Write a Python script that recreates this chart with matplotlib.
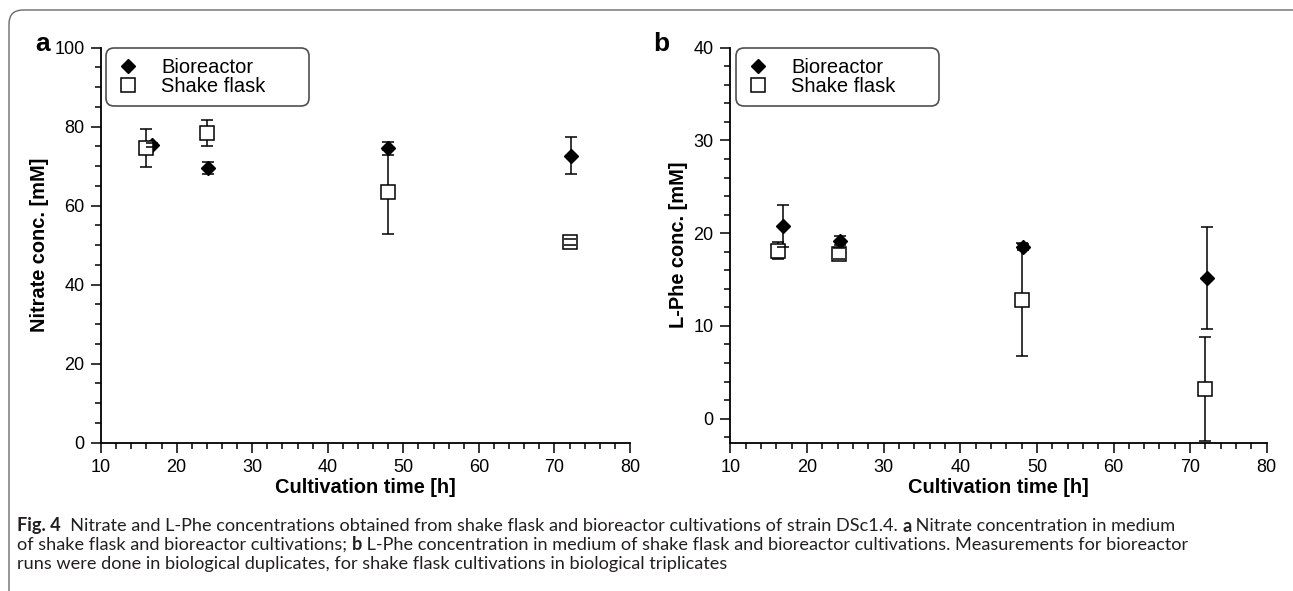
import matplotlib
matplotlib.use("Agg")
import matplotlib.pyplot as plt
from matplotlib.patches import FancyBboxPatch
from matplotlib.lines import Line2D
from matplotlib.ticker import MultipleLocator

# --- data ---
time_bio_a = [16.75, 24.2, 48.0, 72.2]
nitrate_bio = [75.4, 69.6, 74.5, 72.7]
nitrate_bio_err = [0.5, 1.5, 1.6, 4.8]
time_sf_a = [16.0, 24.0, 48.0, 72.0]
nitrate_sf = [74.6, 78.4, 63.5, 50.8]
nitrate_sf_err = [4.7, 3.2, 10.7, 0.8]

time_bio_b = [16.9, 24.35, 48.2, 72.2]
phe_bio = [20.8, 19.2, 18.5, 15.2]
phe_bio_err = [2.25, 0.5, 0.3, 5.5]
time_sf_b = [16.2, 24.2, 48.1, 72.0]
phe_sf = [18.1, 17.8, 12.8, 3.2]
phe_sf_err = [0.9, 0.6, 6.1, 5.6]

plt.rcParams['font.family'] = ['Liberation Sans', 'DejaVu Sans']

fig = plt.figure(figsize=(12.93, 5.91), dpi=100)

# rounded frame round the figure (display coords, origin bottom-left)
frame = FancyBboxPatch((9, -40), 1310, 621, boxstyle="round,pad=0,rounding_size=14",
                       transform=None, fc='none', ec='#6a6a6a', lw=1.0)
fig.patches.append(frame)


def draw_panel(ax, xb, yb, eb, xs, ys, es, ylim, ymajor, yminor, ylabel, leg_x0, leg_w):
    # bioreactor: filled diamonds
    l1 = ax.errorbar(xb, yb, yerr=eb, fmt='D', ms=7.5, color='black', mfc='black',
                     mec='black', ecolor='black', elinewidth=1.1, capsize=4, capthick=1.1)
    # shake flask: open squares
    l2 = ax.errorbar(xs, ys, yerr=es, fmt='s', ms=9.5, color='black', mfc='white',
                     mec='black', mew=1.1, ecolor='black', elinewidth=1.1, capsize=4,
                     capthick=1.1)
    for c in (l1, l2):
        c[0].set_zorder(3)
        for cl in c[1]:
            cl.set_zorder(4)
        for bl in c[2]:
            bl.set_zorder(2)

    ax.set_xlim(10, 80)
    ax.set_ylim(*ylim)
    ax.xaxis.set_major_locator(MultipleLocator(10))
    ax.xaxis.set_minor_locator(MultipleLocator(2))
    ax.yaxis.set_major_locator(MultipleLocator(ymajor))
    ax.yaxis.set_minor_locator(MultipleLocator(yminor))
    ax.spines['top'].set_visible(False)
    ax.spines['right'].set_visible(False)
    ax.spines['left'].set_linewidth(1.3)
    ax.spines['bottom'].set_linewidth(1.3)
    ax.tick_params(which='major', direction='out', length=7, width=1.1, labelsize=13, pad=5)
    ax.tick_params(which='minor', direction='out', length=4.5, width=1.1)
    ax.set_xlabel('Cultivation time [h]', fontsize=14.4, fontweight='bold', labelpad=1)
    ax.set_ylabel(ylabel, fontsize=14.4, fontweight='bold', labelpad=4)

    handles = [Line2D([], [], ls='none', marker='D', ms=7.5, color='black'),
               Line2D([], [], ls='none', marker='s', ms=9.5, mfc='white', mec='black', mew=1.1)]
    leg = ax.legend(handles, ['Bioreactor', 'Shake flask'], loc='upper left',
                    bbox_to_anchor=(leg_x0, 0, leg_w, 1.0), mode='expand', frameon=True,
                    fancybox=True, fontsize=14.5, handletextpad=1.05, borderpad=0.5,
                    labelspacing=0.0, handlelength=1.2, borderaxespad=0.0)
    leg._legend_box.sep = 0
    leg.get_frame().set_edgecolor('#222222')
    leg.get_frame().set_linewidth(1.2)
    leg.get_frame().set_boxstyle('round,pad=0,rounding_size=0.4')
    return leg


ax_a = fig.add_axes([0.0782, 0.2509, 0.4090, 0.6684])
draw_panel(ax_a, time_bio_a, nitrate_bio, nitrate_bio_err, time_sf_a, nitrate_sf, nitrate_sf_err,
           (0, 100), 20, 5, 'Nitrate conc. [mM]', 0.0087, 0.385)

ax_b = fig.add_axes([0.5649, 0.2509, 0.4148, 0.6684])
draw_panel(ax_b, time_bio_b, phe_bio, phe_bio_err, time_sf_b, phe_sf, phe_sf_err,
           (-2.6, 40), 10, 2, 'L-Phe conc. [mM]', 0.010, 0.379)

fig.text(43 / 1293, 1 - 44 / 591, 'a', fontsize=19, fontweight='bold', ha='center', va='center')
fig.text(661 / 1293, 1 - 44 / 591, 'b', fontsize=19, fontweight='bold', ha='center', va='center')

# caption, drawn piece by piece so bold and regular parts sit on one line
caption = [
    [('Fig. 4', 'bold'), ('  Nitrate and L-Phe concentrations obtained from shake flask and bioreactor '
                         'cultivations of strain DSc1.4. ', 'normal'), ('a', 'bold'),
     (' Nitrate concentration in medium', 'normal')],
    [('of shake flask and bioreactor cultivations; ', 'normal'), ('b', 'bold'),
     (' L-Phe concentration in medium of shake flask and bioreactor cultivations. Measurements for bioreactor',
      'normal')],
    [('runs were done in biological duplicates, for shake flask cultivations in biological triplicates',
      'normal')],
]
line_y = [526, 545, 564]
renderer = fig.canvas.get_renderer()
for parts, yp in zip(caption, line_y):
    x = 17
    for txt, w in parts:
        t = fig.text(x / 1293, 1 - yp / 591, txt, fontsize=13.05, fontweight=w, va='center',
                     ha='left', family=['Lato', 'DejaVu Sans'], color='#231f20')
        bb = t.get_window_extent(renderer=renderer)
        x += bb.width

fig.savefig('out.png', dpi=100)
